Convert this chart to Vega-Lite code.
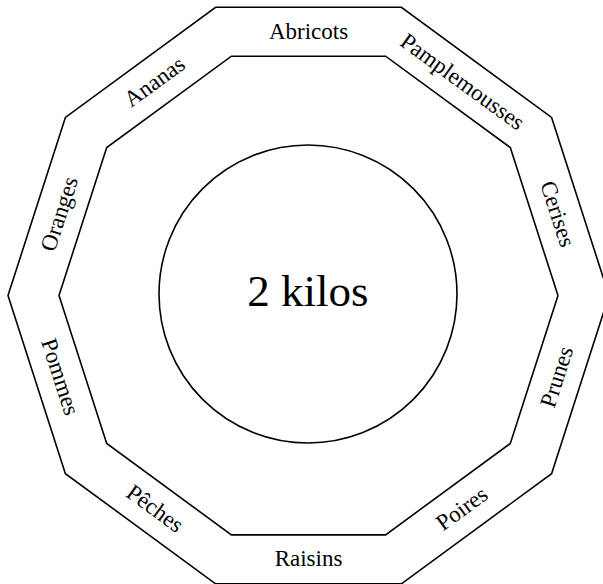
{
  "$schema": "https://vega.github.io/schema/vega-lite/v6.json",
  "width": 603,
  "height": 584,
  "padding": 0,
  "autosize": {"type": "none"},
  "background": "white",
  "config": {"view": {"stroke": null}},
  "datasets": {
    "rings": [
      {"ring": "outer", "i": 0, "x": 300.5, "y": 0},
      {"ring": "outer", "i": 1, "x": 243.1, "y": 176.6},
      {"ring": "outer", "i": 2, "x": 92.9, "y": 285.8},
      {"ring": "outer", "i": 3, "x": -92.9, "y": 285.8},
      {"ring": "outer", "i": 4, "x": -243.1, "y": 176.6},
      {"ring": "outer", "i": 5, "x": -300.5, "y": 0},
      {"ring": "outer", "i": 6, "x": -243.1, "y": -176.6},
      {"ring": "outer", "i": 7, "x": -92.9, "y": -285.8},
      {"ring": "outer", "i": 8, "x": 92.9, "y": -285.8},
      {"ring": "outer", "i": 9, "x": 243.1, "y": -176.6},
      {"ring": "outer", "i": 10, "x": 300.5, "y": 0},
      {"ring": "inner", "i": 0, "x": 249.5, "y": 0},
      {"ring": "inner", "i": 1, "x": 201.8, "y": 146.7},
      {"ring": "inner", "i": 2, "x": 77.1, "y": 237.3},
      {"ring": "inner", "i": 3, "x": -77.1, "y": 237.3},
      {"ring": "inner", "i": 4, "x": -201.8, "y": 146.7},
      {"ring": "inner", "i": 5, "x": -249.5, "y": 0},
      {"ring": "inner", "i": 6, "x": -201.8, "y": -146.7},
      {"ring": "inner", "i": 7, "x": -77.1, "y": -237.3},
      {"ring": "inner", "i": 8, "x": 77.1, "y": -237.3},
      {"ring": "inner", "i": 9, "x": 201.8, "y": -146.7},
      {"ring": "inner", "i": 10, "x": 249.5, "y": 0}
    ],
    "circle": [{"x": -0.5, "y": 1.5}],
    "labels": [
      {"label": "Abricots", "x": 0, "y": 261.5, "angle": 0},
      {"label": "Pamplemousses", "x": 153.7, "y": 211.6, "angle": 36},
      {"label": "Cerises", "x": 248.7, "y": 80.8, "angle": 72},
      {"label": "Prunes", "x": 248.7, "y": -80.8, "angle": 288},
      {"label": "Poires", "x": 153.7, "y": -211.6, "angle": 324},
      {"label": "Raisins", "x": 0, "y": -261.5, "angle": 0},
      {"label": "Pêches", "x": -153.7, "y": -211.6, "angle": 36},
      {"label": "Pommes", "x": -248.7, "y": -80.8, "angle": 72},
      {"label": "Oranges", "x": -248.7, "y": 80.8, "angle": 288},
      {"label": "Ananas", "x": -153.7, "y": 211.6, "angle": 324}
    ],
    "center": [{"text": "2 kilos", "x": -0.5, "y": -10.4}]
  },
  "layer": [
    {
      "data": {"name": "rings"},
      "mark": {"type": "line", "color": "black", "strokeWidth": 1.6, "strokeJoin": "miter"},
      "encoding": {
        "x": {"field": "x", "type": "quantitative", "scale": {"domain": [-308.5, 294.5], "nice": false, "zero": false}, "axis": null},
        "y": {"field": "y", "type": "quantitative", "scale": {"domain": [-286, 293], "nice": false, "zero": false}, "axis": null},
        "detail": {"field": "ring", "type": "nominal"},
        "order": {"field": "i", "type": "quantitative"}
      }
    },
    {
      "data": {"name": "circle"},
      "mark": {"type": "point", "shape": "circle", "filled": false, "size": 88804, "stroke": "black", "strokeWidth": 1.6, "opacity": 1},
      "encoding": {
        "x": {"field": "x", "type": "quantitative"},
        "y": {"field": "y", "type": "quantitative"}
      }
    },
    {
      "data": {"name": "labels"},
      "mark": {"type": "text", "font": "Liberation Serif", "fontSize": 23, "align": "center", "baseline": "middle", "color": "black"},
      "encoding": {
        "x": {"field": "x", "type": "quantitative"},
        "y": {"field": "y", "type": "quantitative"},
        "text": {"field": "label", "type": "nominal"},
        "angle": {"field": "angle", "type": "quantitative", "scale": null}
      }
    },
    {
      "data": {"name": "center"},
      "mark": {"type": "text", "font": "Liberation Serif", "fontSize": 45, "align": "center", "baseline": "alphabetic", "color": "black"},
      "encoding": {
        "x": {"field": "x", "type": "quantitative"},
        "y": {"field": "y", "type": "quantitative"},
        "text": {"field": "text", "type": "nominal"}
      }
    }
  ]
}
